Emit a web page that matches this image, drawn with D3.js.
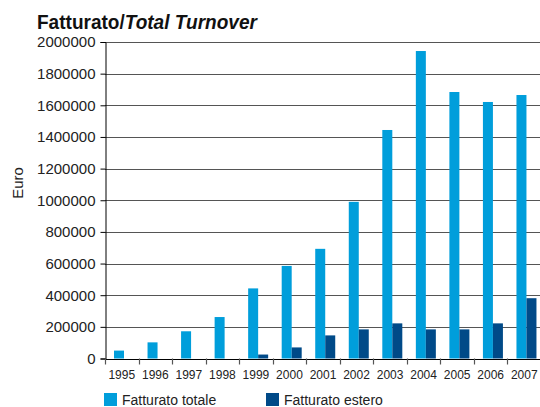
<!DOCTYPE html>
<html>
<head>
<meta charset="utf-8">
<script src="https://cdn.jsdelivr.net/npm/d3@7"></script>
<style>
  body { margin: 0; background: #fff; }
  text { font-family: "Liberation Sans", Arial, sans-serif; }
</style>
</head>
<body>
<div id="chart"></div>
<script>
// Data
const years = ["1995", "1996", "1997", "1998", "1999", "2000", "2001",
               "2002", "2003", "2004", "2005", "2006", "2007"];
const totale = [50000, 102000, 172000, 262000, 443000, 585000, 693000,
                990000, 1444000, 1943000, 1684000, 1621000, 1665000];
const estero = [0, 0, 0, 0, 25000, 70000, 146000,
                184000, 222000, 184000, 184000, 222000, 381000];
const yTicks = [0, 200000, 400000, 600000, 800000, 1000000, 1200000,
                1400000, 1600000, 1800000, 2000000];
const seriesNames = ["Fatturato totale", "Fatturato estero"];
const colors = ["#009edb", "#004a88"];

const width = 540;
const height = 407;

const svg = d3.select("#chart")
    .append("svg")
    .attr("width", width)
    .attr("height", height);

// Scales
const xScale = d3.scaleBand()
    .domain(years)
    .range([105, 541])
    .padding(0);

const yScale = d3.scaleLinear()
    .domain([0, 2000000])
    .range([358.5, 42]);

// Gridlines
svg.append("g")
    .selectAll("line")
    .data(yTicks.filter(d => d > 0))
    .enter()
    .append("line")
    .attr("x1", 105)
    .attr("x2", width)
    .attr("y1", d => Math.round(yScale(d)) + 0.5)
    .attr("y2", d => Math.round(yScale(d)) + 0.5)
    .attr("stroke", "#555")
    .attr("stroke-width", 1.2);

// Bars
const table = years.map((y, i) => ({ year: y, values: [totale[i], estero[i]] }));
const barOffset = 9;
const barWidth = 10;

svg.append("g")
    .selectAll("g")
    .data(table)
    .enter()
    .append("g")
    .selectAll("rect")
    .data(d => d.values.map((v, k) => ({ year: d.year, v: v, k: k })))
    .enter()
    .append("rect")
    .attr("x", d => xScale(d.year) + barOffset + d.k * barWidth)
    .attr("y", d => yScale(d.v))
    .attr("width", barWidth)
    .attr("height", d => yScale(0) - yScale(d.v))
    .attr("fill", d => colors[d.k]);

// Y axis
const yAxis = svg.append("g")
    .attr("transform", "translate(105.5,0)")
    .call(d3.axisLeft(yScale).tickValues(yTicks).tickSizeOuter(0)
        .tickSize(5).tickPadding(5).tickFormat(d => d));
yAxis.select(".domain").attr("stroke", "#000");
yAxis.selectAll(".tick line").attr("stroke", "#000");
yAxis.selectAll("text")
    .attr("font-size", "15px")
    .attr("fill", "#222")
    .attr("font-family", "Liberation Sans, Arial, sans-serif");

// X axis line
svg.append("line")
    .attr("x1", 105)
    .attr("x2", width)
    .attr("y1", Math.round(yScale(0)) + 0.5)
    .attr("y2", Math.round(yScale(0)) + 0.5)
    .attr("stroke", "#000")
    .attr("stroke-width", 1.2);

// X ticks at band boundaries
svg.append("g")
    .selectAll("line")
    .data(years)
    .enter()
    .append("line")
    .attr("x1", d => Math.round(xScale(d)) + 0.5)
    .attr("x2", d => Math.round(xScale(d)) + 0.5)
    .attr("y1", yScale(0))
    .attr("y2", yScale(0) + 6)
    .attr("stroke", "#555")
    .attr("stroke-width", 1.2);

// X labels
svg.append("g")
    .selectAll("text")
    .data(years)
    .enter()
    .append("text")
    .attr("x", d => xScale(d) + xScale.bandwidth() / 2)
    .attr("y", 379)
    .attr("text-anchor", "middle")
    .attr("font-size", "12px")
    .attr("fill", "#222")
    .text(d => d);

// Y axis title
svg.append("text")
    .attr("transform", "translate(23,183) rotate(-90)")
    .attr("text-anchor", "middle")
    .attr("font-size", "15px")
    .attr("fill", "#222")
    .text("Euro");

// Chart title
const title = svg.append("text")
    .attr("x", 0)
    .attr("y", 0)
    .attr("font-size", "21px")
    .attr("font-weight", "bold")
    .attr("fill", "#111");
title.append("tspan").text("Fatturato/");
title.append("tspan").attr("font-style", "italic").text("Total Turnover");
const tw = title.node().getComputedTextLength();
title.attr("transform", `translate(37,28.5) scale(${220 / tw},1)`);

// Legend
const legendX = [104, 266];
const legend = svg.append("g");

legend.selectAll("rect")
    .data(seriesNames)
    .enter()
    .append("rect")
    .attr("x", (d, i) => legendX[i])
    .attr("y", 393)
    .attr("width", 13)
    .attr("height", 13)
    .attr("fill", (d, i) => colors[i]);

legend.selectAll("text")
    .data(seriesNames)
    .enter()
    .append("text")
    .attr("x", (d, i) => legendX[i] + 18)
    .attr("y", 404.5)
    .attr("font-size", "14px")
    .attr("fill", "#222")
    .text(d => d);
</script>
</body>
</html>
